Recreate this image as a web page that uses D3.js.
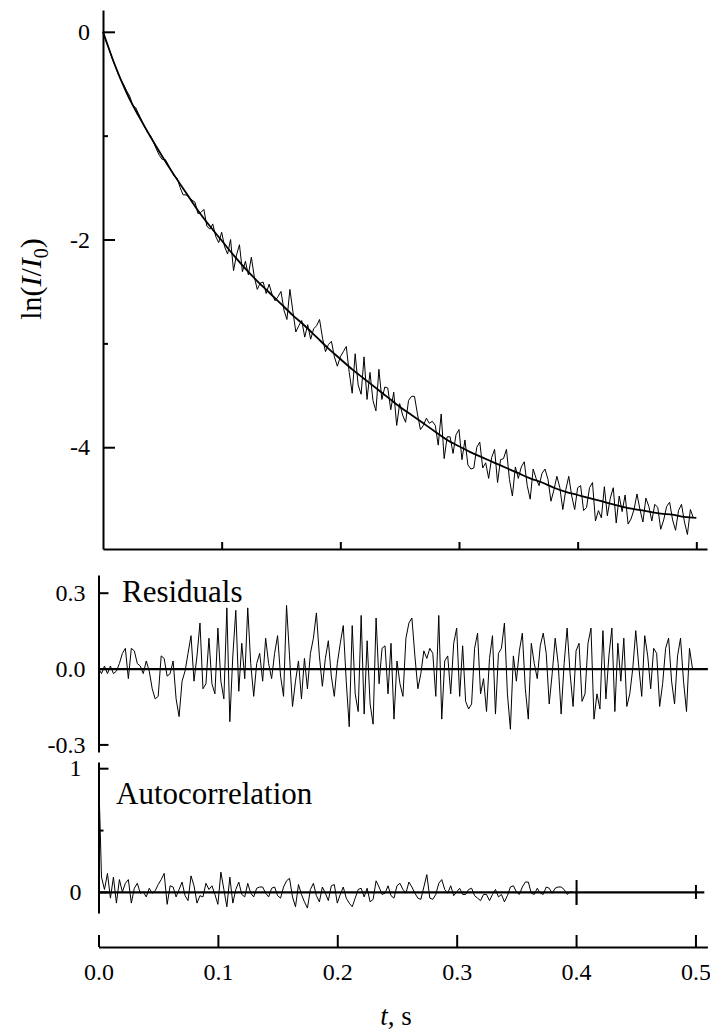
<!DOCTYPE html>
<html>
<head>
<meta charset="utf-8">
<script src="https://cdn.jsdelivr.net/npm/d3@7"></script>
<style>
  body { margin: 0; background: #fff; }
  svg text { font-family: "Liberation Serif", "Times New Roman", serif !important; fill: #000; }
</style>
</head>
<body>
<svg id="fig" width="710" height="1033"></svg>
<script>
// sampling interval of the trace, s
const step = 0.0025;

// fitted curve, one value every 10 ms
const fitTimes = d3.range(0, 0.5001, 0.01);
const fitLn = [0.00, -0.32, -0.59, -0.81, -1.01, -1.20, -1.38, -1.55, -1.72, -1.87,
  -2.01, -2.15, -2.28, -2.40, -2.51, -2.62, -2.73, -2.83, -2.94, -3.05,
  -3.15, -3.25, -3.34, -3.43, -3.52, -3.61, -3.69, -3.77, -3.85, -3.93,
  -3.99, -4.05, -4.10, -4.15, -4.20, -4.25, -4.30, -4.34, -4.39, -4.43,
  -4.46, -4.49, -4.52, -4.55, -4.58, -4.60, -4.62, -4.64, -4.65, -4.67, -4.68];

// measured ln(I/I0)
const lnObs = [0.00, -0.09, -0.16, -0.25, -0.32, -0.40, -0.46, -0.51, -0.57, -0.62,
  -0.71, -0.73, -0.79, -0.85, -0.91, -0.97, -1.00, -1.06, -1.13, -1.19,
  -1.23, -1.23, -1.28, -1.34, -1.39, -1.41, -1.50, -1.57, -1.57, -1.59,
  -1.62, -1.64, -1.75, -1.74, -1.71, -1.87, -1.90, -1.85, -1.97, -2.03,
  -1.93, -2.07, -2.14, -2.00, -2.30, -2.15, -2.05, -2.31, -2.21, -2.34,
  -2.17, -2.36, -2.48, -2.42, -2.41, -2.52, -2.43, -2.53, -2.59, -2.55,
  -2.50, -2.68, -2.77, -2.48, -2.69, -2.89, -2.83, -2.78, -2.94, -2.82,
  -2.96, -2.86, -2.83, -2.77, -2.95, -3.08, -3.01, -2.98, -3.13, -3.22,
  -3.13, -3.08, -3.03, -3.28, -3.48, -3.10, -3.40, -3.49, -3.13, -3.54,
  -3.28, -3.55, -3.65, -3.25, -3.54, -3.42, -3.43, -3.64, -3.47, -3.79,
  -3.58, -3.69, -3.76, -3.55, -3.51, -3.51, -3.68, -3.83, -3.79, -3.72,
  -3.77, -3.75, -3.79, -3.98, -3.68, -4.11, -3.90, -3.90, -4.06, -3.88,
  -3.83, -4.12, -3.93, -4.17, -4.21, -4.20, -4.00, -3.95, -4.20, -4.15,
  -4.30, -4.10, -4.02, -4.34, -4.12, -4.11, -4.02, -4.31, -4.47, -4.19,
  -4.30, -4.19, -4.14, -4.37, -4.50, -4.21, -4.30, -4.37, -4.25, -4.21,
  -4.31, -4.52, -4.41, -4.28, -4.39, -4.60, -4.41, -4.28, -4.47, -4.60,
  -4.39, -4.37, -4.61, -4.58, -4.39, -4.34, -4.71, -4.61, -4.68, -4.38,
  -4.66, -4.49, -4.39, -4.73, -4.47, -4.62, -4.46, -4.74, -4.69, -4.60,
  -4.45, -4.60, -4.72, -4.49, -4.57, -4.71, -4.55, -4.58, -4.79, -4.70,
  -4.57, -4.53, -4.70, -4.80, -4.61, -4.55, -4.72, -4.84, -4.60, -4.68];

const residuals = [0.00, -0.02, 0.01, -0.02, 0.01, -0.02, -0.01, 0.02, 0.06, 0.08,
  -0.04, 0.08, 0.07, 0.02, 0.01, -0.02, 0.03, -0.01, -0.08, -0.12,
  -0.11, 0.05, 0.04, -0.03, -0.02, 0.03, -0.12, -0.19, -0.05, -0.01,
  0.06, 0.13, -0.05, 0.05, 0.18, -0.08, -0.06, 0.12, -0.06, -0.10,
  0.16, -0.05, -0.12, 0.24, -0.21, 0.05, 0.23, -0.09, 0.10, -0.04,
  0.24, 0.02, -0.11, 0.02, 0.06, -0.05, 0.12, 0.02, -0.04, 0.06,
  0.13, -0.03, -0.11, 0.25, 0.05, -0.15, -0.05, 0.03, -0.12, 0.04,
  -0.08, 0.06, 0.12, 0.22, 0.05, -0.07, 0.04, 0.11, -0.03, -0.11,
  0.02, 0.10, 0.17, -0.05, -0.23, 0.17, -0.10, -0.17, 0.21, -0.18,
  0.11, -0.14, -0.22, 0.20, -0.06, 0.08, 0.09, -0.10, 0.10, -0.20,
  0.03, -0.06, -0.11, 0.12, 0.18, 0.20, 0.05, -0.08, -0.02, 0.07,
  0.04, 0.08, 0.06, -0.11, 0.21, -0.20, 0.03, 0.05, -0.10, 0.10,
  0.16, -0.11, 0.09, -0.13, -0.16, -0.14, 0.08, 0.14, -0.10, -0.04,
  -0.17, 0.04, 0.13, -0.18, 0.06, 0.08, 0.18, -0.10, -0.24, 0.05,
  -0.05, 0.07, 0.14, -0.08, -0.20, 0.10, 0.02, -0.04, 0.09, 0.14,
  0.06, -0.14, -0.02, 0.12, 0.02, -0.18, 0.02, 0.16, -0.02, -0.15,
  0.07, 0.10, -0.13, -0.10, 0.10, 0.16, -0.20, -0.10, -0.16, 0.15,
  -0.12, 0.05, 0.16, -0.17, 0.10, -0.05, 0.12, -0.15, -0.10, 0.00,
  0.15, 0.01, -0.11, 0.13, 0.05, -0.08, 0.08, 0.06, -0.15, -0.06,
  0.08, 0.12, -0.05, -0.14, 0.05, 0.12, -0.05, -0.17, 0.08, 0.00];

// autocorrelation of the residuals, lag 0 .. 0.4 s
const autocorr = [1.00, 0.12, 0.02, 0.15, -0.05, 0.12, -0.09, 0.10, 0.00, 0.07,
  0.10, -0.09, 0.03, 0.07, -0.01, 0.00, -0.04, 0.03, -0.01, 0.01,
  0.06, 0.10, 0.15, -0.10, 0.05, 0.04, -0.04, 0.02, 0.08, -0.03,
  -0.07, 0.13, 0.05, -0.09, -0.03, -0.04, 0.07, 0.02, 0.05, -0.02,
  -0.10, 0.16, 0.02, -0.12, 0.12, -0.09, 0.02, 0.08, -0.02, -0.04,
  0.07, -0.01, -0.04, 0.03, 0.04, 0.04, -0.01, -0.04, 0.03, 0.04,
  -0.03, -0.05, 0.04, 0.09, 0.11, -0.04, -0.12, 0.06, -0.02, -0.08,
  -0.13, 0.02, 0.07, -0.03, -0.08, 0.04, -0.01, -0.07, 0.05, 0.06,
  -0.09, -0.02, 0.04, -0.05, -0.09, -0.12, -0.05, 0.02, 0.03, -0.04,
  0.03, -0.08, -0.06, 0.09, 0.04, -0.02, -0.01, 0.05, -0.03, -0.05,
  0.05, 0.07, 0.02, -0.01, 0.08, 0.04, -0.01, -0.05, -0.06, 0.04,
  0.14, -0.05, -0.06, -0.02, 0.07, 0.10, 0.02, -0.01, 0.05, -0.03,
  0.00, 0.03, -0.02, -0.02, 0.02, 0.03, -0.03, -0.05, -0.07, -0.02,
  -0.02, -0.07, -0.02, 0.02, -0.04, -0.02, -0.08, -0.03, 0.04, 0.05,
  0.00, -0.02, 0.04, 0.08, 0.08, -0.01, -0.02, 0.03, -0.01, -0.02,
  0.04, 0.03, -0.01, 0.03, 0.04, 0.04, 0.02, -0.02, 0.00, 0.00];

const topTicks = [0, -2, -4];
const topMinor = [-1, -3];
const resTicks = [0.3, 0.0, -0.3];
const acTicks = [1, 0];
const timeTicks = [0.0, 0.1, 0.2, 0.3, 0.4, 0.5];

const serif = "'Liberation Serif', 'Times New Roman', serif";
const svg = d3.select("#fig").style("font-family", serif);

const x = d3.scaleLinear().domain([0, 0.51]).range([98.5, 707.4]);
const xTop = d3.scaleLinear().domain([0, 0.509]).range([103, 707]);
const yTop = d3.scaleLinear().domain([-4.98, 0.21]).range([549, 10]);
const yRes = d3.scaleLinear().domain([-0.33, 0.37]).range([752, 575]);
const yAc = d3.scaleLinear().domain([-0.17, 1.05]).range([913, 762]);

function inkAxis(g, w) {
  g.attr("font-family", serif).attr("font-size", 24);
  g.selectAll("path, line").attr("stroke", "#000").attr("stroke-width", w);
  g.selectAll("text").style("font-family", serif).style("font-size", "24px");
}

// ---- top panel ----
svg.append("g")
  .attr("transform", `translate(${xTop(0)},0)`)
  .call(d3.axisLeft(yTop).tickValues(topTicks).tickSize(-12).tickSizeOuter(0)
    .tickPadding(13).tickFormat(d => String(d)))
  .call(g => inkAxis(g, 2));
svg.append("g")
  .attr("transform", `translate(${xTop(0)},0)`)
  .call(d3.axisLeft(yTop).tickValues(topMinor).tickSize(-5).tickFormat(""))
  .call(g => g.select(".domain").remove())
  .call(g => inkAxis(g, 2));
svg.append("g")
  .attr("transform", `translate(0,${yTop.range()[0]})`)
  .call(d3.axisBottom(xTop).tickValues(timeTicks.slice(1)).tickSize(-7).tickSizeOuter(0).tickFormat(""))
  .call(g => inkAxis(g, 2));

const obsPts = lnObs.map((v, i) => ({t: i * step, v: v}));
const fitPts = fitLn.map((v, i) => ({t: fitTimes[i], v: v}));

svg.append("path")
  .datum(obsPts)
  .attr("fill", "none").attr("stroke", "#000").attr("stroke-width", 1)
  .attr("d", d3.line().x(d => xTop(d.t)).y(d => yTop(d.v)));
svg.append("path")
  .datum(fitPts)
  .attr("fill", "none").attr("stroke", "#000").attr("stroke-width", 1.8)
  .attr("d", d3.line().curve(d3.curveMonotoneX).x(d => xTop(d.t)).y(d => yTop(d.v)));

// y label ln(I/I0)
const ylab = svg.append("text")
  .attr("transform", "translate(41,279) rotate(-90)")
  .attr("text-anchor", "middle")
  .style("font-size", "30px");
ylab.append("tspan").text("ln(");
ylab.append("tspan").attr("font-style", "italic").text("I");
ylab.append("tspan").text("/");
ylab.append("tspan").attr("font-style", "italic").text("I");
ylab.append("tspan").style("font-size", "20px").attr("dy", 7).text("0");
ylab.append("tspan").attr("dy", -7).text(")");

// ---- residuals ----
svg.append("g")
  .attr("transform", `translate(${x(0)},0)`)
  .call(d3.axisLeft(yRes).tickValues(resTicks).tickSize(-10).tickSizeOuter(0)
    .tickPadding(13).tickFormat(d => d.toFixed(1)))
  .call(g => inkAxis(g, 2));
svg.append("g")
  .attr("transform", `translate(0,${yRes(0)})`)
  .call(d3.axisBottom(x).tickValues([]).tickSizeOuter(0))
  .call(g => inkAxis(g, 2.2));

svg.append("path")
  .datum(residuals.map((v, i) => ({t: i * step, v: v})))
  .attr("fill", "none").attr("stroke", "#000").attr("stroke-width", 1)
  .attr("d", d3.line().x(d => x(d.t)).y(d => yRes(d.v)));

svg.append("text")
  .attr("x", 122).attr("y", 602)
  .style("font-size", "31px")
  .text("Residuals");

// ---- autocorrelation ----
svg.append("g")
  .attr("transform", `translate(${x(0)},0)`)
  .call(d3.axisLeft(yAc).tickValues(acTicks).tickSize(-10).tickSizeOuter(0)
    .tickPadding(17).tickFormat(d => String(d)))
  .call(g => inkAxis(g, 2));
svg.append("g")
  .attr("transform", `translate(${x(0)},0)`)
  .call(d3.axisLeft(yAc).tickValues([0.5]).tickSize(-5).tickFormat(""))
  .call(g => g.select(".domain").remove())
  .call(g => inkAxis(g, 2));
svg.append("g")
  .attr("transform", `translate(0,${yAc(0)})`)
  .call(d3.axisBottom(x.copy().domain([0, 0.507]).range([98.5, 703.8])).tickValues([0.4]).tickSize(13).tickSizeOuter(0).tickFormat(""))
  .call(g => inkAxis(g, 2.2));
svg.append("g")
  .attr("transform", `translate(0,${yAc(0)})`)
  .call(d3.axisTop(x).tickValues([0.4]).tickSize(12).tickFormat(""))
  .call(g => g.select(".domain").remove())
  .call(g => inkAxis(g, 2));
svg.append("g")
  .attr("transform", `translate(0,${yAc(0)})`)
  .call(d3.axisTop(x).tickValues([0.5]).tickSize(7).tickFormat(""))
  .call(g => g.select(".domain").remove())
  .call(g => inkAxis(g, 2));
svg.append("g")
  .attr("transform", `translate(0,${yAc(0)})`)
  .call(d3.axisBottom(x).tickValues([0.5]).tickSize(7).tickFormat(""))
  .call(g => g.select(".domain").remove())
  .call(g => inkAxis(g, 2));

svg.append("path")
  .datum(autocorr.map((v, i) => ({t: i * step, v: v})))
  .attr("fill", "none").attr("stroke", "#000").attr("stroke-width", 1)
  .attr("d", d3.line().x(d => x(d.t)).y(d => yAc(d.v)));

svg.append("text")
  .attr("x", 116).attr("y", 804)
  .style("font-size", "31px")
  .text("Autocorrelation");

// ---- common time axis ----
svg.append("g")
  .attr("transform", "translate(0,947)")
  .call(d3.axisBottom(x).tickValues(timeTicks).tickSize(-12).tickSizeOuter(0)
    .tickPadding(16).tickFormat(d => d.toFixed(1)))
  .call(g => inkAxis(g, 2));

const xlab = svg.append("text")
  .attr("x", 396).attr("y", 1025)
  .attr("text-anchor", "middle")
  .style("font-size", "27px");
xlab.append("tspan").attr("font-style", "italic").text("t");
xlab.append("tspan").text(", s");
</script>
</body>
</html>
